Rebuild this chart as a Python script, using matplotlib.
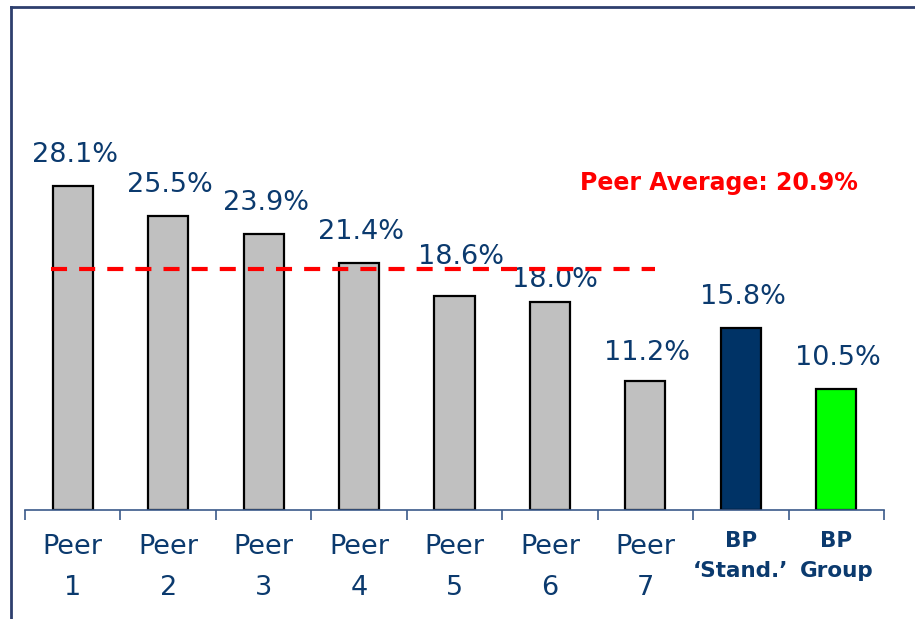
import matplotlib
matplotlib.use("Agg")
import matplotlib.pyplot as plt
from matplotlib.lines import Line2D

categories = ["Peer\n1", "Peer\n2", "Peer\n3", "Peer\n4", "Peer\n5", "Peer\n6", "Peer\n7",
              "BP\n\u2018Stand.\u2019", "BP\nGroup"]
values = [28.1, 25.5, 23.9, 21.4, 18.6, 18.0, 11.2, 15.8, 10.5]
value_labels = ["28.1%", "25.5%", "23.9%", "21.4%", "18.6%", "18.0%", "11.2%", "15.8%", "10.5%"]
peer_average = 20.9
avg_label = "Peer Average: 20.9%"

colors = ["#c0c0c0"] * 7 + ["#003366", "#00ff00"]
text_blue = "#0b3a6e"

W, H = 915, 619
fig = plt.figure(figsize=(W / 100, H / 100), dpi=100)

# axes: left 25px, right 884px, bottom at y=510px, top at y=6px
ax_left, ax_right, ax_bottom, ax_top = 25, 884, 510, 6
ax = fig.add_axes([ax_left / W, 1 - ax_bottom / H, (ax_right - ax_left) / W, (ax_bottom - ax_top) / H])
px_per_unit = 11.53
ax.set_ylim(0, (ax_bottom - ax_top) / px_per_unit)
ax.set_xlim(-0.5, len(values) - 0.5)

x = list(range(len(values)))
ax.bar(x, values, width=0.42, color=colors, edgecolor="black", linewidth=1.6, zorder=2)

# label nudges (points) as placed on the original slide
label_dy = {4: 18.5, 5: 7, 6: 10.5}
label_dx = {4: 5, 5: 3.5}
for i, (xi, v, lab) in enumerate(zip(x, values, value_labels)):
    ax.annotate(lab, (xi, v), xytext=(label_dx.get(i, 1.5), label_dy.get(i, 13)),
                textcoords="offset points", ha="center",
                va="bottom", fontsize=19.5, color=text_blue, family="DejaVu Sans", zorder=4)

ax.plot([-0.23, 6.1], [peer_average, peer_average], color="#ff0000", linewidth=3,
        dashes=(3.85, 2.9), zorder=5)
ax.text(6.77, 28.4, avg_label, ha="center", va="center", fontsize=17,
        color="#ff0000", fontweight="bold", family="DejaVu Sans")

for s in ["top", "right", "left"]:
    ax.spines[s].set_visible(False)
ax.spines["bottom"].set_color("#3b5a8a")
ax.spines["bottom"].set_linewidth(1.2)
ax.set_yticks([])
ax.set_xticks([i - 0.5 for i in range(len(values) + 1)], minor=False)
ax.set_xticklabels([])
ax.tick_params(axis="x", direction="out", length=7, width=1.2, color="#3b5a8a")

for xi, cat in zip(x, categories):
    bold = cat.startswith("BP")
    if bold:
        ax.text(xi, -1.85, cat, ha="center", va="top", fontsize=15.5, fontweight="bold",
                color=text_blue, linespacing=1.6, family="DejaVu Sans")
    else:
        ax.text(xi, -2.05, cat, ha="center", va="top", fontsize=19.5,
                color=text_blue, linespacing=1.75, family="DejaVu Sans")

# frame lines of the slide (top and left)
fig.add_artist(Line2D([10.5 / W, 1], [1 - 6.5 / H, 1 - 6.5 / H], transform=fig.transFigure,
                      color="#2e3f6e", linewidth=2))
fig.add_artist(Line2D([10.5 / W, 10.5 / W], [0, 1 - 6.5 / H], transform=fig.transFigure,
                      color="#2e3f6e", linewidth=2))

fig.savefig("out.png", dpi=100)
